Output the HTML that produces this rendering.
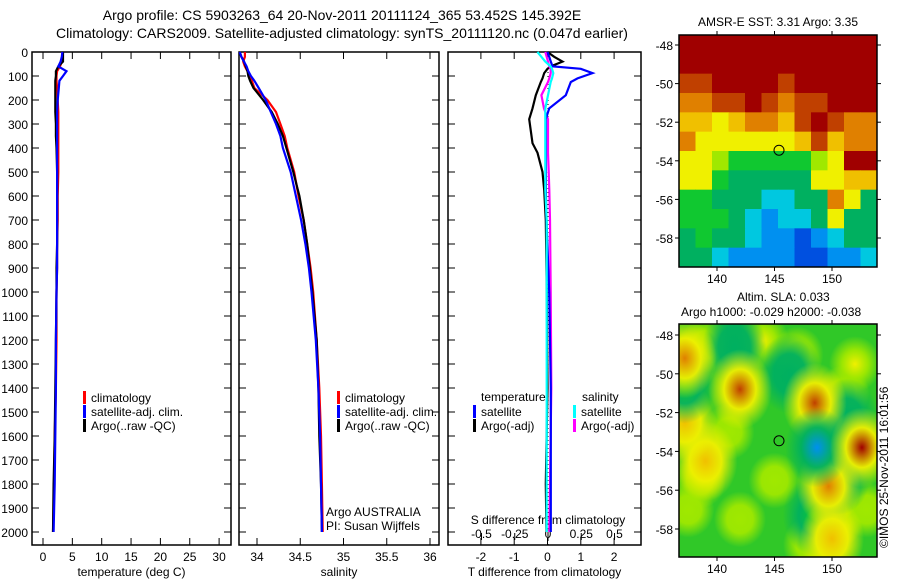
<!DOCTYPE html>
<html><head><meta charset="utf-8"><style>
body{margin:0;background:#fff}
svg{display:block;font-family:"Liberation Sans",sans-serif}
</style></head><body>
<svg id="c" width="900" height="580" xmlns="http://www.w3.org/2000/svg">
<text x="342" y="20" font-size="14" text-anchor="middle">Argo profile: CS 5903263_64 20-Nov-2011 20111124_365 53.452S 145.392E</text>
<text x="342" y="38" font-size="14" text-anchor="middle">Climatology: CARS2009. Satellite-adjusted climatology: synTS_20111120.nc (0.047d earlier)</text>
<text x="778" y="26" font-size="12" text-anchor="middle">AMSR-E SST: 3.31  Argo: 3.35</text>
<text x="737" y="301" font-size="12">Altim. SLA: 0.033</text>
<text x="681" y="316" font-size="12">Argo h1000: -0.029 h2000: -0.038</text>
<text transform="translate(888,548) rotate(-90)" font-size="12">©IMOS 25-Nov-2011 16:01:56</text>
</svg>
<script>
const depths=[0,20,40,60,80,100,120,150,200,250,300,350,400,500,600,700,800,900,1000,1200,1400,1600,1800,2000];
const tempClim=[3.3,3.3,3.2,2.9,2.4,2.3,2.3,2.4,2.5,2.6,2.6,2.6,2.6,2.6,2.5,2.5,2.4,2.4,2.3,2.3,2.2,2.0,1.9,1.7];
const tempSat=[3.3,3.2,3.0,2.6,4.0,3.4,2.8,2.7,2.5,2.4,2.4,2.4,2.4,2.4,2.4,2.4,2.4,2.4,2.3,2.2,2.2,2.1,2.0,1.8];
const tempArgo=[3.4,3.4,3.4,2.6,2.2,2.2,2.1,2.1,2.1,2.1,2.2,2.2,2.3,2.4,2.4,2.4,2.4,2.3,2.3,2.2,2.1,2.0,1.8,1.7];
const salClim=[33.86,33.86,33.84,33.86,33.89,33.92,33.94,33.97,34.12,34.22,34.27,34.32,34.35,34.43,34.48,34.54,34.58,34.62,34.65,34.69,34.72,34.74,34.75,34.76];
const salSat=[33.8,33.82,33.85,33.88,33.9,33.93,33.97,34.02,34.1,34.16,34.22,34.27,34.3,34.39,34.45,34.51,34.56,34.6,34.63,34.68,34.71,34.73,34.74,34.75];
const salArgo=[33.8,33.82,33.85,33.87,33.89,33.9,33.92,33.96,34.07,34.17,34.24,34.3,34.34,34.42,34.49,34.54,34.58,34.61,34.64,34.69,34.71,34.72,34.74,34.75];
const diffDepths=[0,20,40,60,70,88,110,125,180,235,280,380,420,500,575,700,1000,1400,1800,2000];
const dTempArgo=[0.0,0.2,0.45,0.1,0.0,-0.1,-0.15,-0.2,-0.35,-0.45,-0.55,-0.45,-0.3,-0.15,-0.1,-0.05,-0.02,0.0,-0.05,-0.03];
const dTempSat=[0.0,0.05,0.1,0.15,1.0,1.35,0.9,0.7,0.55,0.05,-0.05,-0.05,-0.05,-0.05,-0.05,-0.03,0.05,0.1,0.1,0.1];
const dSalSat=[-0.08,-0.05,-0.02,0.02,0.03,0.04,0.03,0.02,0.0,-0.02,-0.02,-0.02,-0.02,-0.02,-0.02,-0.01,-0.01,-0.01,-0.01,-0.01];
const dSalArgo=[-0.02,-0.01,0.0,0.01,0.02,0.02,0.01,0.0,-0.05,-0.03,0.0,0.0,0.0,0.005,0.01,0.015,0.02,0.025,0.015,0.01];
const depthTicks=[0,100,200,300,400,500,600,700,800,900,1000,1100,1200,1300,1400,1500,1600,1700,1800,1900,2000];
const tempTicks=[0,5,10,15,20,25,30];
const salTicks=[34,34.5,35,35.5,36];
const tdTicks=[-2,-1,0,1,2];
const sdTicks=[-0.5,-0.25,0,0.25,0.5];
const sstLevels=[
[10,10,10,10,10,10,10,10,10,10,10,10],
[10,10,10,10,10,10,10,10,10,10,10,10],
[9,9,10,10,10,10,9,10,10,10,10,10],
[8,8,9,9,10,9,8,9,9,10,10,10],
[7,7,6,7,8,8,7,9,10,9,8,8],
[8,6,6,6,6,6,6,7,9,7,8,8],
[6,6,5,4,4,4,4,4,5,6,10,10],
[6,6,4,3,3,3,3,3,6,6,7,7],
[4,4,3,3,3,2,2,3,3,8,6,3],
[4,4,4,3,2,1,2,2,3,6,3,3],
[3,4,3,3,2,1,1,0,1,2,3,3],
[3,3,2,1,1,1,1,0,0,1,1,2]];
const slaLon=[139,144,147,141,150.5,153,137.5,145,152,138.5,142,148,151,142,148.5,137.2,146.3,148.7,152.6,149.7,150,139,137.2,151.3,150.6,141.5,148.5,137.2];
const slaLat=[-48.5,-48.3,-49,-53,-57.5,-57,-57,-55.5,-49.5,-55.5,-57.5,-58.8,-51,-50.8,-51.5,-49.2,-50,-53.8,-53.8,-55.8,-58.5,-54.5,-52.5,-52.3,-55.2,-48.6,-57.3,-50.5];
const slaLevel=[5,5.5,5,5,5,5,5,5,5.5,5,5,5,5,8.5,9,8,2.5,0.5,10,8,7,6.5,6.5,2.5,2.5,3,3.5,3.5];
const palette=['#0050e0','#0090f0','#00c8e0','#00b060','#10c830','#a0e800','#f0f000','#f0c000','#e08000','#c04000','#a00000'];
const NS='http://www.w3.org/2000/svg';
const svg=document.getElementById('c');
function mk(t,a,p){const e=document.createElementNS(NS,t);for(const k in a)e.setAttribute(k,a[k]);(p||svg).appendChild(e);return e;}
const yD=d=>52+d*0.24;
function panel(name,x0,x1,xf,xticks,xlabel,fmt){
  const g=mk('g',{});
  const r=mk('rect',{x:x0,y:52,width:x1-x0,height:493,fill:'none',stroke:'#000','stroke-width':1.5},g);
  
  xticks.forEach(v=>{const x=xf(v);mk('line',{x1:x,x2:x,y1:545,y2:538,stroke:'#000'},g);mk('line',{x1:x,x2:x,y1:52,y2:59,stroke:'#000'},g);
    if(fmt){const t=mk('text',{x:x,y:561,'font-size':12,'text-anchor':'middle'},g);t.textContent=fmt(v);}});
  depthTicks.forEach(d=>{mk('line',{x1:x0,x2:x0+7,y1:yD(d),y2:yD(d),stroke:'#000'},g);mk('line',{x1:x1,x2:x1-7,y1:yD(d),y2:yD(d),stroke:'#000'},g);});
  if(xlabel){const t=mk('text',{x:(x0+x1)/2,y:576,'font-size':12,'text-anchor':'middle'},g);t.textContent=xlabel;}
  return g;
}
function line(g,xs,ds,xf,col,name){const p=xs.map((v,i)=>xf(v).toFixed(1)+','+yD(ds[i]).toFixed(1)).join(' ');
  const e=mk('polyline',{points:p,fill:'none',stroke:col,'stroke-width':2.2},g);}
function leg(g,x,y,col,txt){mk('rect',{x:x,y:y-10,width:3,height:13,fill:col},g);const t=mk('text',{x:x+8,y:y+1,'font-size':12},g);t.textContent=txt;}
const xT=v=>43+v*5.87;
const g1=panel('temperature-panel',32,231,xT,tempTicks,'temperature (deg C)',v=>v);
depthTicks.forEach(d=>{const t=mk('text',{x:28,y:yD(d)+5,'font-size':12,'text-anchor':'end'});t.textContent=d;});
line(g1,tempClim,depths,xT,'#f00','temp-climatology-line');
line(g1,tempArgo,depths,xT,'#000','temp-argo-line');
line(g1,tempSat,depths,xT,'#00f','temp-satellite-line');
leg(g1,83,401,'#f00','climatology');leg(g1,83,415,'#00f','satellite-adj. clim.');leg(g1,83,429,'#000','Argo(..raw -QC)');
const xS=v=>257+(v-34)*86.5;
const g2=panel('salinity-panel',239,439,xS,salTicks,'salinity',v=>v);
line(g2,salClim,depths,xS,'#f00','sal-climatology-line');
line(g2,salArgo,depths,xS,'#000','sal-argo-line');
line(g2,salSat,depths,xS,'#00f','sal-satellite-line');
leg(g2,337,401,'#f00','climatology');leg(g2,337,415,'#00f','satellite-adj. clim.');leg(g2,337,429,'#000','Argo(..raw -QC)');
[['Argo AUSTRALIA',516],['PI: Susan Wijffels',530]].forEach(a=>{const t=mk('text',{x:326,y:a[1],'font-size':12},g2);t.textContent=a[0];});
const xTD=v=>547.5+v*33.3;
const xSD=v=>548+v*133;
const g3=panel('difference-panel',448,641,xTD,tdTicks,'T difference from climatology',v=>v);
sdTicks.forEach(v=>{const x=xSD(v);mk('line',{x1:x,x2:x,y1:540,y2:533,stroke:'#000'},g3);const t=mk('text',{x:x,y:538,'font-size':12,'text-anchor':'middle'},g3);t.textContent=v;});
{const t=mk('text',{x:548,y:524,'font-size':12,'text-anchor':'middle'},g3);t.textContent='S difference from climatology';}
mk('line',{x1:548,x2:548,y1:52,y2:545,stroke:'#000','stroke-dasharray':'1,3'},g3);
line(g3,dTempArgo,diffDepths,xTD,'#000','tdiff-argo-line');
line(g3,dSalArgo,diffDepths,xSD,'#f0f','sdiff-argo-line');
line(g3,dTempSat,diffDepths,xTD,'#00f','tdiff-satellite-line');
line(g3,dSalSat,diffDepths,xSD,'#0ff','sdiff-satellite-line');
{const t=mk('text',{x:481,y:401,'font-size':12},g3);t.textContent='temperature';
 const u=mk('text',{x:582,y:401,'font-size':12},g3);u.textContent='salinity';}
leg(g3,473,415,'#00f','satellite');leg(g3,473,429,'#000','Argo(-adj)');leg(g3,573,415,'#0ff','satellite');leg(g3,573,429,'#f0f','Argo(-adj)');
const lonX=v=>717+(v-140)*11.5;
function mapFrame(name){const g=mk('g',{});return g;}
function mapAxes(g,y0,y1,latY){
  mk('rect',{x:679,y:y0,width:198,height:y1-y0,fill:'none',stroke:'#000','stroke-width':1.5},g);
  [140,145,150].forEach(v=>{const x=lonX(v);mk('line',{x1:x,x2:x,y1:y0-4,y2:y0,stroke:'#000'},g);mk('line',{x1:x,x2:x,y1:y1,y2:y1+4,stroke:'#000'},g);
    const t=mk('text',{x:x,y:y1+16,'font-size':12,'text-anchor':'middle'},g);t.textContent=v;});
  [-48,-50,-52,-54,-56,-58].forEach(v=>{const y=latY(v);mk('line',{x1:675,x2:679,y1:y,y2:y,stroke:'#000'},g);mk('line',{x1:877,x2:881,y1:y,y2:y,stroke:'#000'},g);
    const t=mk('text',{x:673,y:y+5,'font-size':12,'text-anchor':'end'},g);t.textContent=v;});
}
const lat1=v=>45+(-48-v)*19.3;
const m1=mapFrame('sst-map');
const cw=198/12, ch=232/12;
sstLevels.forEach((row,r)=>row.forEach((lv,c)=>{const e=mk('rect',{x:679+c*cw,y:35+r*ch,width:cw+0.5,height:ch+0.5,fill:palette[lv]},m1);}));
mk('circle',{cx:lonX(145.392),cy:lat1(-53.452),r:5,fill:'none',stroke:'#000'},m1);
mapAxes(m1,35,267,lat1);
const lat2=v=>335+(-48-v)*19.4;
const m2=mapFrame('sla-map');
const defs=mk('defs',{});
mk('clipPath',{id:'cl2'},defs);mk('rect',{x:679,y:324,width:198,height:233},defs.lastChild);
const cg=mk('g',{'clip-path':'url(#cl2)'},m2);
mk('rect',{x:679,y:324,width:198,height:233,fill:'#30c828'},cg);
const order=slaLon.map((_,i)=>i).sort((a,b)=>Math.abs(slaLevel[a]-5)-Math.abs(slaLevel[b]-5));
order.forEach(i=>{const lo=slaLon[i];const lv=slaLevel[i];const gid='sg'+i;const rg=mk('radialGradient',{id:gid},defs);
  const lvHi=Math.round(lv);const lvMid=lv>5.6?6:(lv>4.5?5:3);
  mk('stop',{offset:'0%','stop-color':palette[lvHi]},rg);mk('stop',{offset:'50%','stop-color':palette[lvMid],'stop-opacity':0.95},rg);mk('stop',{offset:'100%','stop-color':palette[lvMid],'stop-opacity':0}, rg);
  const big=lv>4.4&&lv<5.6;
  const e=mk('ellipse',{cx:lonX(lo),cy:lat2(slaLat[i]),rx:big?26:32,ry:big?28:40,fill:'url(#'+gid+')'},cg);});
mk('circle',{cx:lonX(145.392),cy:lat2(-53.452),r:5,fill:'none',stroke:'#000'},m2);
mapAxes(m2,324,557,lat2);
</script>
</body></html>
